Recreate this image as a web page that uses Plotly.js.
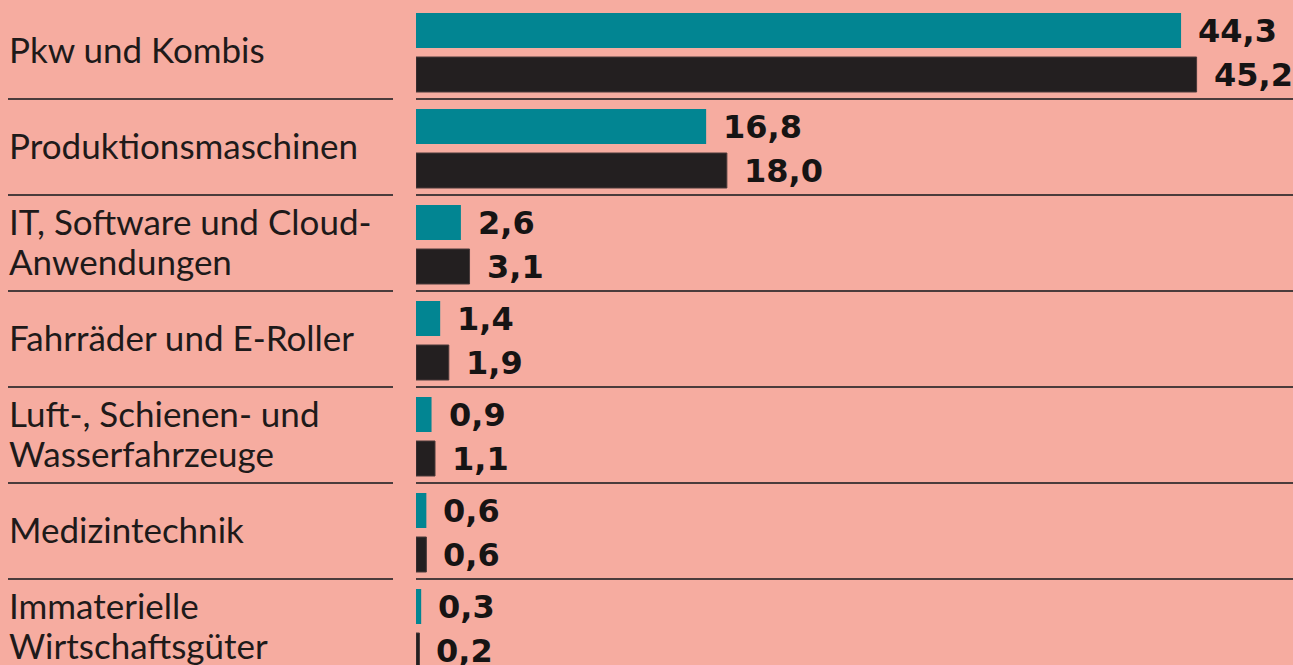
<!DOCTYPE html>
<html>
<head>
<meta charset="utf-8">
<script src="https://cdn.plot.ly/plotly-3.0.1.min.js"></script>
<style>html,body{margin:0;padding:0;background:#F6ACA0;}#chart{width:1293px;height:665px;}</style>
</head>
<body>
<div id="chart"></div>
<script>
const categories = [
  "Pkw und Kombis",
  "Produktionsmaschinen",
  "IT, Software und Cloud-<br>Anwendungen",
  "Fahrräder und E-Roller",
  "Luft-, Schienen- und<br>Wasserfahrzeuge",
  "Medizintechnik",
  "Immaterielle<br>Wirtschaftsgüter"
];
const seriesA = [44.3, 16.8, 2.6, 1.4, 0.9, 0.6, 0.3];
const seriesB = [45.2, 18.0, 3.1, 1.9, 1.1, 0.6, 0.2];
const labelsA = ["44,3", "16,8", "2,6", "1,4", "0,9", "0,6", "0,3"];
const labelsB = ["45,2", "18,0", "3,1", "1,9", "1,1", "0,6", "0,2"];

const W = 1293, H = 665, L = 416;
const pxPerUnit = 17.27;
const xMax = (W - L) / pxPerUnit;
const catPx = 96;
const topPx = 3;
const yTop = -0.5 - topPx / catPx;
const yBot = yTop + H / catPx;

const barW = 35 / catPx;
const offA = -0.5 + 10 / catPx;
const offB = -0.5 + 54 / catPx;
const idx = categories.map((_, i) => i);

const teal = "#028592", dark = "#231F20";

const traces = [
  {type: "bar", orientation: "h", x: seriesA, y: idx, width: barW, offset: offA,
   marker: {color: teal}, hoverinfo: "skip"},
  {type: "bar", orientation: "h", x: seriesB, y: idx, width: barW, offset: offB,
   marker: {color: dark, line: {color: "#4a3a3a", width: 1}}, hoverinfo: "skip"}
];

const shapes = [];
for (let i = 0; i < categories.length; i++) {
  const yv = i + 0.5;
  shapes.push({type: "line", xref: "paper", yref: "y", x0: (8 - L) / (W - L), x1: (393 - L) / (W - L), y0: yv, y1: yv,
    line: {color: "#4a3c3c", width: 2}});
  shapes.push({type: "line", xref: "paper", yref: "y", x0: 0, x1: 1, y0: yv, y1: yv,
    line: {color: "#4a3c3c", width: 2}});
}

const labelFont = {family: "Lato, 'Open Sans', sans-serif", size: 35, color: "#1e1a1a"};
const valueFont = {family: "'DejaVu Sans', sans-serif", size: 32, color: "#161414", weight: 700};
const lineGap = 40;

const annotations = [];
categories.forEach((c, i) => {
  const lines = c.split("<br>");
  lines.forEach((ln, k) => {
    const shift = 2 - (k - (lines.length - 1) / 2) * lineGap;
    annotations.push({xref: "paper", yref: "y", x: (7 - L) / (W - L), y: i, yshift: shift, text: ln,
      xanchor: "left", yanchor: "middle", align: "left", showarrow: false, font: labelFont});
  });
  annotations.push({xref: "x", yref: "y", x: seriesA[i], y: i + offA + barW / 2, text: labelsA[i],
    xanchor: "left", yanchor: "middle", xshift: 15, showarrow: false, font: valueFont});
  annotations.push({xref: "x", yref: "y", x: seriesB[i], y: i + offB + barW / 2, text: labelsB[i],
    xanchor: "left", yanchor: "middle", xshift: 15, showarrow: false, font: valueFont});
});

const layout = {
  width: W, height: H,
  margin: {l: L, r: 0, t: 0, b: 0, pad: 0},
  paper_bgcolor: "#F6ACA0", plot_bgcolor: "#F6ACA0",
  barmode: "overlay",
  showlegend: false,
  xaxis: {range: [0, xMax], visible: false, fixedrange: true},
  yaxis: {type: "linear", range: [yBot, yTop], visible: false, fixedrange: true},
  shapes: shapes,
  annotations: annotations
};

Plotly.newPlot("chart", traces, layout, {staticPlot: true, displayModeBar: false});
</script>
</body>
</html>
